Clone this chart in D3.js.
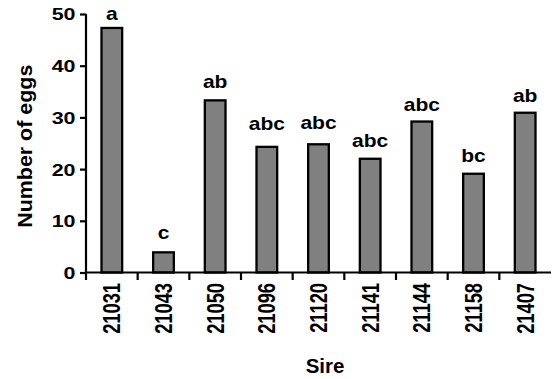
<!DOCTYPE html>
<html><head><meta charset="utf-8">
<script src="https://cdn.jsdelivr.net/npm/d3@7"></script>
<style>body{margin:0;background:#fff}svg{display:block}text{font-family:"Liberation Sans",Arial,sans-serif;font-weight:bold;fill:#000}</style>
</head><body>
<svg id="c" width="552" height="379"></svg>
<script>
const sires = ["21031","21043","21050","21096","21120","21141","21144","21158","21407"];
const eggs = [47.3, 3.9, 33.3, 24.3, 24.8, 22.0, 29.2, 19.1, 30.9];
const letters = ["a","c","ab","abc","abc","abc","abc","bc","ab"];
const letterLevel = [48.9, 6.4, 35.7, 27.6, 27.7, 24.2, 31.3, 21.4, 32.9];
const yTicks = [0,10,20,30,40,50];

const svg = d3.select("#c");
const x0 = 86, x1 = 551, yBottom = 272.5, yTop = 14;
const x = d3.scaleBand().domain(sires).range([x0, x1]).paddingInner(0.6).paddingOuter(0.3);
const y = d3.scaleLinear().domain([0, 50]).range([yBottom, yTop]);

// bars
svg.append("g").selectAll("rect").data(sires).join("rect")
  .attr("x", d => x(d)).attr("width", x.bandwidth())
  .attr("y", (d,i) => y(eggs[i])).attr("height", (d,i) => y(0) - y(eggs[i]))
  .attr("fill", "#808080").attr("stroke", "#000").attr("stroke-width", 2.3);

// letters
svg.append("g").selectAll("text").data(sires).join("text")
  .attr("transform", (d,i) => `translate(${x(d) + x.bandwidth()/2},${y(letterLevel[i])}) scale(1.2,1)`)
  .attr("text-anchor", "middle").style("font-size", "17.5px")
  .text((d,i) => letters[i]);

// y axis
const ya = svg.append("g").attr("transform", `translate(${x0},0)`)
  .call(d3.axisLeft(y).tickValues(yTicks).tickSize(6).tickSizeOuter(0));
ya.select(".domain").remove();
ya.selectAll(".tick line").attr("stroke", "#000").attr("stroke-width", 2.2);
ya.selectAll(".tick text").attr("x", 0).attr("dy", "0.36em")
  .attr("transform", `translate(-10.5,0) scale(1.3,1)`)
  .style("font-size", "16.5px");
svg.append("line").attr("x1", x0).attr("x2", x0).attr("y1", y(50)).attr("y2", yBottom + 7.5)
  .attr("stroke", "#000").attr("stroke-width", 2.2);

// x axis
const xa = svg.append("g").attr("transform", `translate(0,${yBottom})`)
  .call(d3.axisBottom(x).tickSize(0).tickSizeOuter(0));
xa.select(".domain").remove();
xa.selectAll(".tick text")
  .attr("x", 0).attr("y", 0).attr("dy", "0.36em")
  .attr("text-anchor", "end")
  .attr("transform", `translate(0,10.5) scale(1.27,1) rotate(-90)`)
  .style("font-size", "18.3px");
svg.append("line").attr("x1", x0).attr("x2", x1).attr("y1", yBottom).attr("y2", yBottom)
  .attr("stroke", "#000").attr("stroke-width", 2.2);
svg.append("g").selectAll("line").data(d3.range(1, sires.length)).join("line")
  .attr("x1", i => x0 + i * x.step()).attr("x2", i => x0 + i * x.step())
  .attr("y1", yBottom).attr("y2", yBottom + 7.5)
  .attr("stroke", "#000").attr("stroke-width", 2.2);

// titles
svg.append("text").attr("transform", `translate(31.5,${(yTop + yBottom)/2 + 3}) rotate(-90) scale(1.1,1)`)
  .attr("text-anchor", "middle").style("font-size", "19.5px").text("Number of eggs");
svg.append("text").attr("x", 325).attr("y", 373)
  .attr("text-anchor", "middle").style("font-size", "20.5px").text("Sire");
</script>
</body></html>
